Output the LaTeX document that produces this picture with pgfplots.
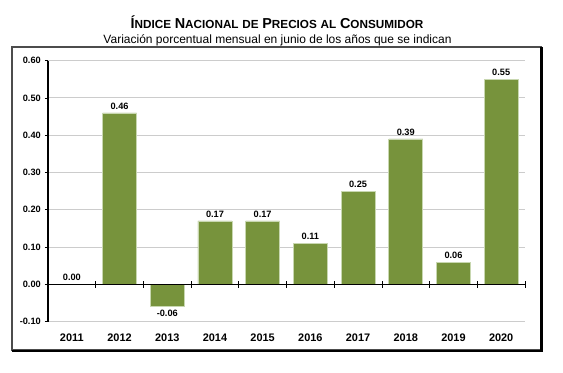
\documentclass[border=0pt]{standalone}
\usepackage{pgfplots}
\pgfplotsset{compat=1.18}
\usepackage{fontspec}
\setmainfont{Liberation Sans}
\definecolor{barg}{HTML}{77933C}
\definecolor{bard}{HTML}{C8D7B0}
\newcommand\B[1]{{\fontsize{10.8}{12}\selectfont #1}}
\newcommand\s[1]{{\fontsize{8.8}{10}\selectfont #1}}
\begin{document}
\begin{tikzpicture}[x=0.75pt,y=0.75pt]
\path (0,0) rectangle (563,373);
\begin{axis}[
  at={(36pt,38.5pt)}, anchor=south west,
  scale only axis, width=357.75pt, height=195.75pt,
  xmin=-0.5, xmax=9.5, ymin=-0.1, ymax=0.6,
  axis x line*=bottom, axis y line*=left,
  x axis line style={draw=none},
  y axis line style={black, line width=0.9pt, -},
  xtick={0,...,9},
  xticklabels={2011,2012,2013,2014,2015,2016,2017,2018,2019,2020},
  xtick style={draw=none},
  xticklabel style={font=\bfseries\fontsize{8.2}{9}\selectfont, yshift=-3pt},
  ytick={-0.1,0,0.1,0.2,0.3,0.4,0.5,0.6},
  ytick style={black, line width=0.6pt},
  tick align=outside, major tick length=2.4pt,
  yticklabel style={font=\bfseries\fontsize{6.9}{8}\selectfont, xshift=0.5pt},
  yticklabel={\pgfmathprintnumber[fixed,fixed zerofill,precision=2,assume math mode=true]{\tick}},
  ymajorgrids, grid style={color=gray!40, line width=0.7pt},
  clip=false,
]
\addplot[ybar, bar width=25.5pt, fill=barg, draw=bard, line width=0.5pt,
  nodes near coords={\pgfmathprintnumber[fixed,fixed zerofill,precision=2,assume math mode=true]{\pgfplotspointmeta}},
  every node near coord/.append style={font=\bfseries\fontsize{6.9}{8}\selectfont, text=black, inner sep=2.5pt}]
coordinates {(0,0) (1,0.46) (2,-0.06) (3,0.17) (4,0.17) (5,0.11) (6,0.25) (7,0.39) (8,0.06) (9,0.55)};
\draw[black, line width=0.9pt] (axis cs:-0.5,0) -- (axis cs:9.5,0);
\pgfplotsinvokeforeach{0.5,1.5,2.5,3.5,4.5,5.5,6.5,7.5,8.5,9.5}{
  \draw[black, line width=0.6pt] ([yshift=-2.4pt]axis cs:#1,0) -- ([yshift=2.4pt]axis cs:#1,0);
}
\end{axis}
\draw[black!70, line width=0.9pt] (12,23) rectangle (541,326);
\draw[black, line width=1.6pt] (541.5,326) -- (541.5,22.3) -- (12,22.3);
\node[anchor=base, font=\bfseries, inner sep=0pt] at (277,344.7)
  {\B{Í}\s{NDICE} \B{N}\s{ACIONAL} \s{DE} \B{P}\s{RECIOS} \s{AL} \B{C}\s{ONSUMIDOR}};
\node[anchor=base, inner sep=0pt, font=\fontsize{9.0}{10}\selectfont] at (277.5,329.3)
  {Variación porcentual mensual en junio de los años que se indican};
\end{tikzpicture}
\end{document}
